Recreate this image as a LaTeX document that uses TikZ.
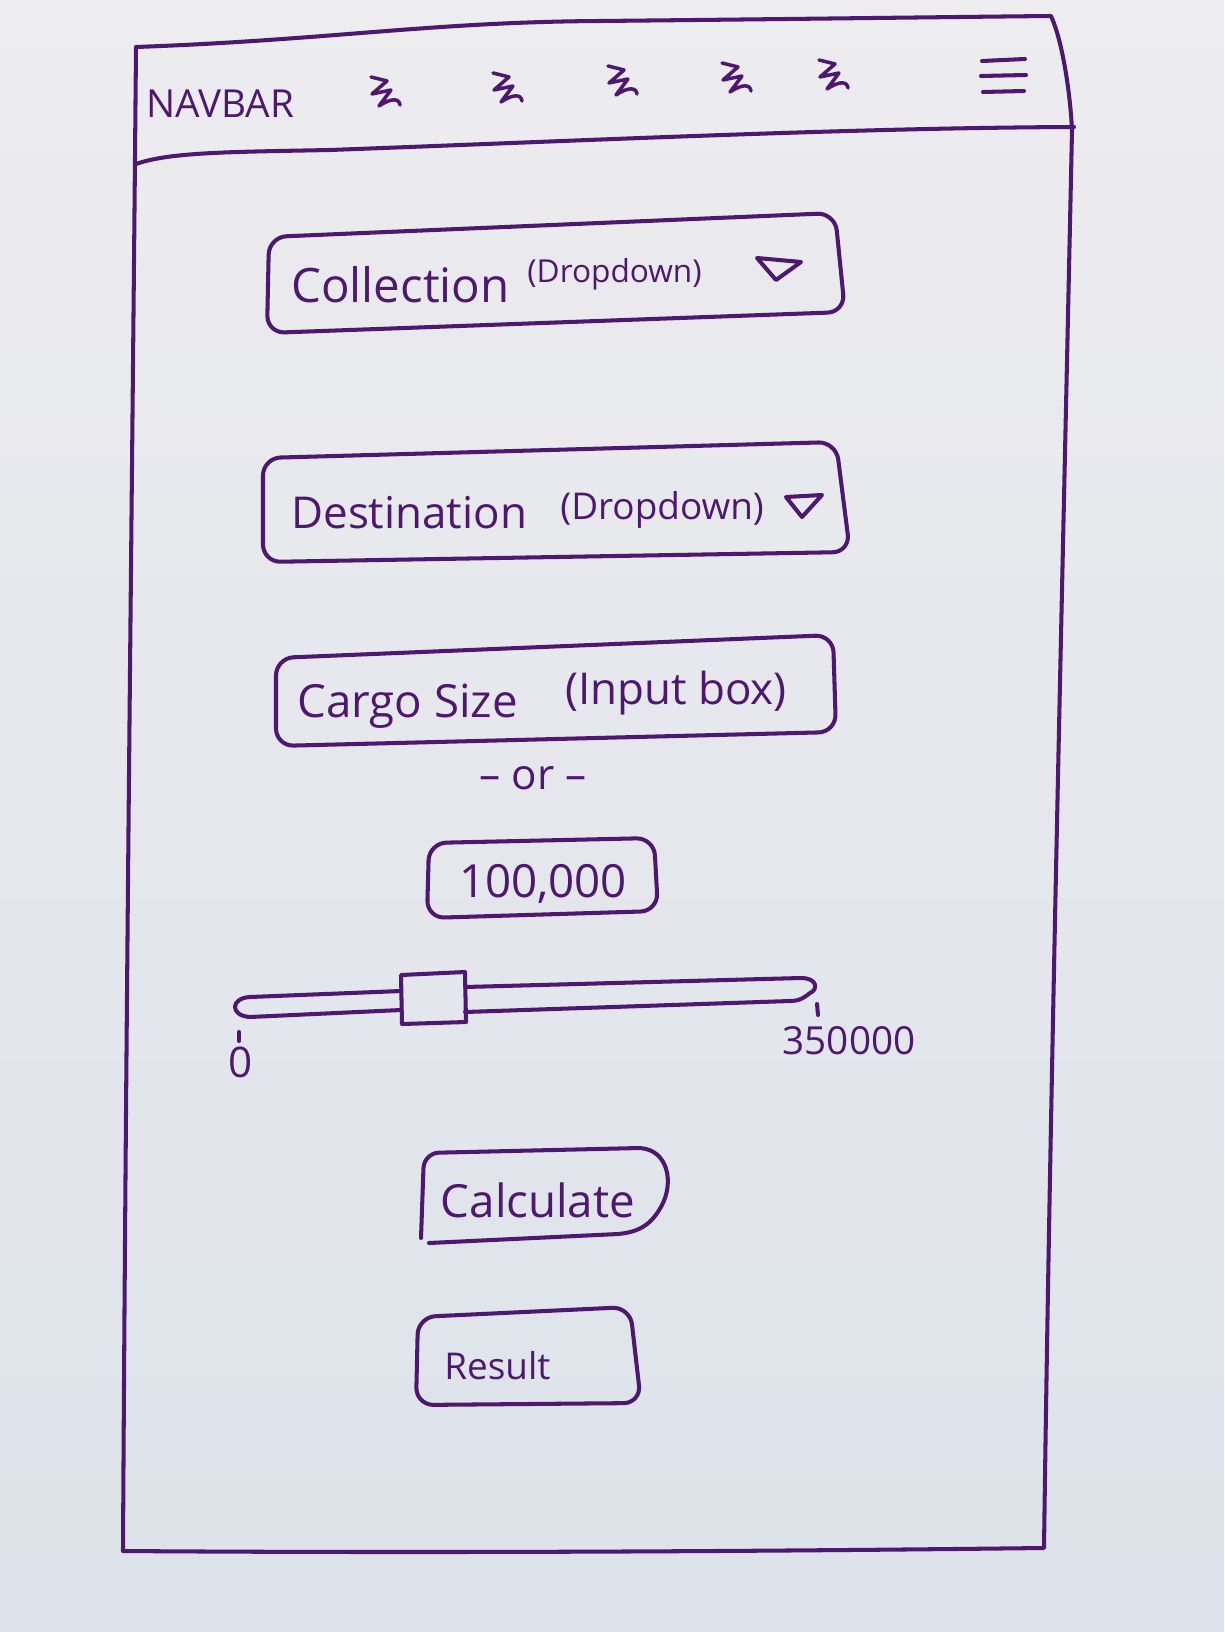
\documentclass[tikz,border=0pt]{standalone}
\usepackage{fontspec}
\setmainfont{Open Sans}
\definecolor{ink}{RGB}{78,24,112}
\definecolor{papertop}{RGB}{237,236,239}
\definecolor{paperbot}{RGB}{221,226,234}
\tikzset{
  pen/.style={draw=ink, line width=2.3pt, line cap=round, line join=round},
  boxline/.style={pen, rounded corners=0.35cm},
  lbl/.style={text=ink, inner sep=0pt, anchor=west},
}
\newcommand{\fs}[1]{\fontsize{#1}{#1}\selectfont}
\begin{document}
\begin{tikzpicture}[x=0.02cm, y=-0.02cm]
\useasboundingbox (0,0) rectangle (1224,1632);
\shade[top color=papertop, bottom color=paperbot] (0,0) rectangle (1224,1632);

% outer frame
\draw[pen] (136,47) .. controls (330,40) and (430,22) .. (600,21)
  .. controls (800,19) and (950,17) .. (1051,16)
  .. controls (1062,40) and (1070,90) .. (1072,130)
  .. controls (1062,600) and (1050,1100) .. (1044,1548)
  .. controls (700,1552) and (400,1553) .. (123,1551)
  .. controls (126,1000) and (132,500) .. (136,47);
% navbar separator
\draw[pen] (136,164) .. controls (170,152) and (230,152) .. (330,150)
  .. controls (600,140) and (850,128) .. (1074,127);

% navbar contents
\node[lbl] (navbar) at (146,104) {\fs{22}NAVBAR};
\foreach \nm/\cx/\cy in {s1/385/92, s2/507/88, s3/622/81, s4/736/78, s5/833/75}{
  \coordinate (\nm) at (\cx,\cy);
  \draw[pen, line width=2pt] ([shift={(-14,-15)}]\nm) -- ([shift={(2,-11)}]\nm)
     -- ([shift={(-13,2)}]\nm) -- ([shift={(6,-2)}]\nm)
     -- ([shift={(-6,14)}]\nm) .. controls ([shift={(6,6)}]\nm) and ([shift={(14,6)}]\nm) .. ([shift={(15,13)}]\nm);
}
\coordinate (menu) at (1003,76);
\draw[pen] ([shift={(-21,-15)}]menu) -- ([shift={(22,-17)}]menu);
\draw[pen] ([shift={(-22,0)}]menu) -- ([shift={(23,-1)}]menu);
\draw[pen] ([shift={(-20,16)}]menu) -- ([shift={(21,15)}]menu);

% Collection dropdown
\draw[boxline] (269,237) -- (835,213) -- (845,312) -- (267,333) -- cycle;
\node[lbl] (coll) at (291,285) {\fs{27}Collection};
\node[lbl] (colldd) at (527,274) {\fs{18}(Dropdown)};
\draw[pen] (757,258) -- (801,262) -- (776,280) -- cycle;

% Destination dropdown
\draw[boxline] (263,458) -- (836,442) -- (850,552) -- (263,562) -- cycle;
\node[lbl] (dest) at (291,513) {\fs{25}Destination};
\node[lbl] (destdd) at (560,510) {\fs{21}(Dropdown)};
\draw[pen] (786,497) -- (822,495) -- (802,517) -- cycle;

% Cargo size input
\draw[boxline] (276,658) -- (833,635) -- (836,732) -- (276,746) -- cycle;
\node[lbl] (cargo) at (297,706) {\fs{26}Cargo Size};
\node[lbl] (cargoin) at (565,693) {\fs{25}(Input box)};

\node[text=ink, inner sep=0pt] (or) at (533,778) {\fs{24}\textendash{} or \textendash};

% value box
\draw[boxline] (429,843) -- (654,838) -- (658,911) -- (427,918) -- cycle;
\node[text=ink, inner sep=0pt] (val) at (543,884) {\fs{26}100,000};

% slider
\draw[pen] (401,991) -- (250,997) .. controls (230,998) and (230,1016) .. (250,1017) -- (401,1010);
\draw[pen] (465,987) -- (801,978) .. controls (818,978) and (818,990) .. (810,993)
  .. controls (805,997) and (800,1001) .. (790,1001) -- (465,1012);
\draw[pen] (401,975) -- (465,972) -- (466,1022) -- (402,1024) -- cycle;
\draw[pen] (817,1004) -- (818,1015);
\draw[pen] (239,1032) -- (239,1041);
\node[text=ink, inner sep=0pt] (zero) at (241,1062) {\fs{24}0};
\node[text=ink, inner sep=0pt] (max) at (849,1041) {\fs{22}350000};

% Calculate button
\draw[pen, rounded corners=0.3cm] (421,1238) -- (424,1153) -- (640,1148);
\draw[pen] (640,1148) .. controls (668,1150) and (674,1182) .. (662,1205)
  .. controls (652,1224) and (640,1232) .. (618,1234) -- (429,1243);
\node[text=ink, inner sep=0pt] (calc) at (538,1200) {\fs{26}Calculate};

% Result box
\draw[boxline] (418,1317) -- (630,1307) -- (641,1403) -- (416,1405) -- cycle;
\node[lbl] (res) at (444,1366) {\fs{21}Result};
\end{tikzpicture}
\end{document}
